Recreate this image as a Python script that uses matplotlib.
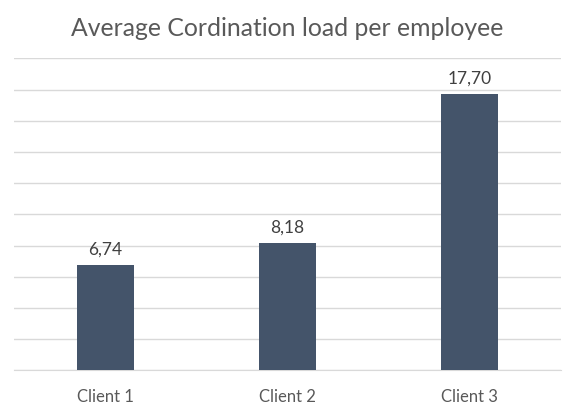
import matplotlib
matplotlib.use("Agg")
import matplotlib.pyplot as plt
import numpy as np

# chart data
clients = ["Client 1", "Client 2", "Client 3"]
load = [6.74, 8.18, 17.70]
value_labels = ["6,74", "8,18", "17,70"]
title = "Average Cordination load per employee"

bar_color = "#44546A"
grid_color = "#D9D9D9"
text_color = "#595959"

plt.rcParams['font.family'] = ['Lato', 'DejaVu Sans']

fig = plt.figure(figsize=(5.75, 4.14), dpi=100)
ax = fig.add_axes([14 / 575, (414 - 371.3) / 414, (561 - 14) / 575, (371.3 - 59.3) / 414])

x = np.arange(len(clients))
bars = ax.bar(x, load, width=0.313, color=bar_color, zorder=3)

for rect, lab in zip(bars, value_labels):
    ax.annotate(lab, (rect.get_x() + rect.get_width() / 2, rect.get_height()),
                xytext=(0, 6), textcoords="offset points", ha="center", va="bottom",
                fontsize=12.5, color="#404040")

ax.set_xlim(-0.5, 2.5)
ax.set_ylim(0, 20)
ax.set_yticks(np.arange(0, 21, 2))
ax.yaxis.grid(True, color=grid_color, linewidth=1, zorder=0)
ax.tick_params(axis="y", left=False, labelleft=False)
ax.set_xticks(x)
ax.set_xticklabels(clients, fontsize=12, color=text_color)
ax.tick_params(axis="x", bottom=False, pad=9)
for s in ["top", "right", "left"]:
    ax.spines[s].set_visible(False)
ax.spines["bottom"].set_color(grid_color)

fig.text(0.5, 1 - 28 / 414, title, ha="center", va="center", fontsize=17.8, color=text_color)

fig.savefig("out.png", dpi=100)
